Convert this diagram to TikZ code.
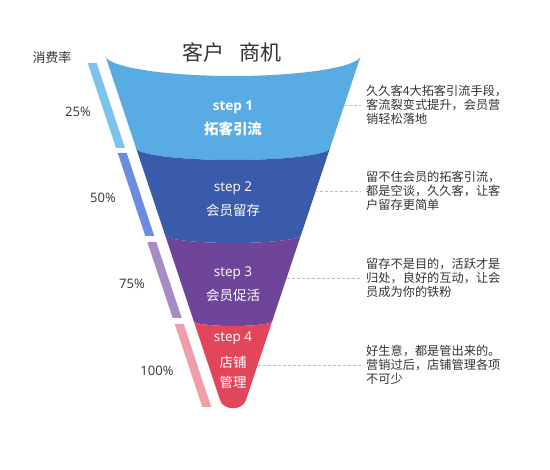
\documentclass[tikz,border=0pt]{standalone}
\usepackage{fontspec}
\setmainfont{Noto Sans CJK SC}
\newfontfamily\lat{Open Sans}
\definecolor{cA}{HTML}{59ABE3}
\definecolor{cB}{HTML}{3A5AAB}
\definecolor{cC}{HTML}{6F4599}
\definecolor{cD}{HTML}{E2465A}
\definecolor{bA}{HTML}{7CC4EE}
\definecolor{bB}{HTML}{6A8DE0}
\definecolor{bC}{HTML}{A68BC6}
\definecolor{bD}{HTML}{EE9FAA}
\definecolor{txt}{HTML}{333333}
\definecolor{dsh}{HTML}{BBBBBB}
\tikzset{
  steplat/.style={text=white,inner sep=0pt,font=\lat\fontsize{13.5}{15}\selectfont},
  stepcn/.style={text=white,inner sep=0pt,font=\fontsize{13.5}{15}\selectfont},
  pct/.style={text=txt,inner sep=0pt,font=\lat\fontsize{13}{15}\selectfont},
  note/.style={text=txt,anchor=west,align=left,inner xsep=5pt,inner ysep=0pt,font=\fontsize{12.2}{14.3}\selectfont},
  link/.style={draw=dsh,dash pattern=on 3pt off 2pt,line width=0.8pt}
}
\begin{document}
\begin{tikzpicture}[x=1pt,y=-1pt]
\useasboundingbox (0,0) rectangle (550,470);
% funnel layers
\fill[cA] (105,55) -- (136,148) arc[start angle=180,end angle=0,x radius=97,y radius=12]
  -- (361,55) arc[start angle=0,end angle=180,x radius=128,y radius=21] -- cycle;
\fill[cB] (136,148) -- (165,235) arc[start angle=180,end angle=0,x radius=68,y radius=8]
  -- (330,148) arc[start angle=0,end angle=180,x radius=97,y radius=12] -- cycle;
\fill[cC] (165,235) -- (193.7,321) arc[start angle=180,end angle=0,x radius=39.3,y radius=5]
  -- (301,235) arc[start angle=0,end angle=180,x radius=68,y radius=8] -- cycle;
\fill[cD] (193.7,321) -- (220,400) .. controls (223.5,411) and (242.5,411) .. (246,400)
  -- (272.3,321) arc[start angle=0,end angle=180,x radius=39.3,y radius=5] -- cycle;
% bars
\fill[bA] (87.7,63) -- (96.7,63) -- (125,148) -- (116,148) -- cycle;
\fill[bB] (117.7,153) -- (126.7,153) -- (154.3,236) -- (145.3,236) -- cycle;
\fill[bC] (147.3,242) -- (156.3,242) -- (181.7,318) -- (172.7,318) -- cycle;
\fill[bD] (174.7,324) -- (183.7,324) -- (211.3,407) -- (202.3,407) -- cycle;
% title and labels
\node[text=txt,inner sep=0pt,font=\fontsize{21}{24}\selectfont] (title) at (232,52) {客户\hspace{15pt}商机};
\node[text=txt,inner sep=0pt,font=\fontsize{13}{15}\selectfont] (rate) at (52,58) {消费率};
\node[pct] (p1) at (78,112) {25\%};
\node[pct] (p2) at (103,198) {50\%};
\node[pct] (p3) at (132,284) {75\%};
\node[pct] (p4) at (157,371) {100\%};
% step labels
\node[steplat,font=\lat\bfseries\fontsize{13.5}{15}\selectfont] (s1a) at (233,107) {step 1};
\node[stepcn,font=\bfseries\fontsize{14.5}{16}\selectfont] (s1b) at (233,129) {拓客引流};
\node[steplat] (s2a) at (233,188) {step 2};
\node[stepcn] (s2b) at (233,210) {会员留存};
\node[steplat] (s3a) at (233,273) {step 3};
\node[stepcn] (s3b) at (233,295) {会员促活};
\node[steplat] (s4a) at (233,338) {step 4};
\node[stepcn] (s4b) at (233,362) {店铺};
\node[stepcn] (s4c) at (233,382) {管理};
% notes
\node[note] (t1) at (361,105) {久久客4大拓客引流手段，\\客流裂变式提升，会员营\\销轻松落地};
\node[note] (t2) at (361,191) {留不住会员的拓客引流，\\都是空谈，久久客，让客\\户留存更简单};
\node[note] (t3) at (361,278) {留存不是目的，活跃才是\\归处，良好的互动，让会\\员成为你的铁粉};
\node[note] (t4) at (361,365) {好生意，都是管出来的。\\营销过后，店铺管理各项\\不可少};
% connectors
\coordinate (e1) at (344,105);
\coordinate (e2) at (315.3,191);
\coordinate (e3) at (286.7,278);
\coordinate (e4) at (257.7,365);
\draw[link] (e1) -- (e1 -| t1.west);
\draw[link] (e2) -- (e2 -| t2.west);
\draw[link] (e3) -- (e3 -| t3.west);
\draw[link] (e4) -- (e4 -| t4.west);
\end{tikzpicture}
\end{document}
